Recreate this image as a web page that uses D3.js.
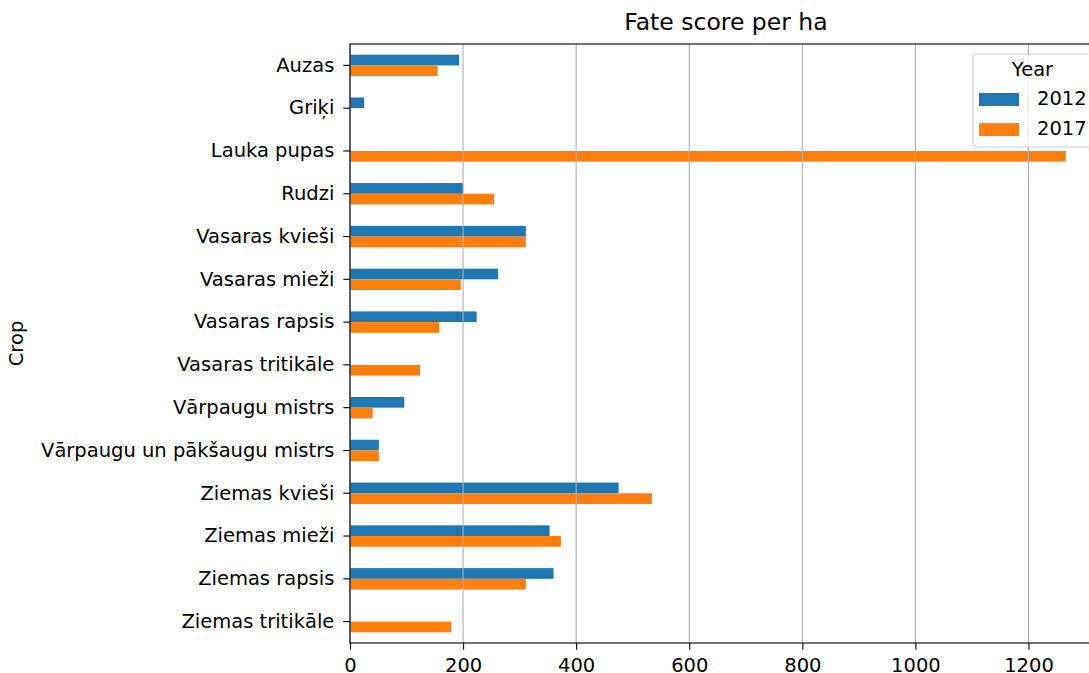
<!DOCTYPE html>
<meta charset="utf-8">
<html>
<head>
<title>Fate score per ha</title>
<style>
  body { margin: 0; background: #fff; }
  svg { font-family: "DejaVu Sans", sans-serif; }
  .tick text { font-size: 19.5px; fill: #000; font-family: "DejaVu Sans", sans-serif; }
  .grid line { stroke: #b0b0b0; stroke-width: 1.1px; }
</style>
<script src="https://d3js.org/d3.v7.min.js"></script>
</head>
<body>
<svg width="1089" height="673"></svg>
<script>
  // Data
  var crops = ["Auzas", "Griķi", "Lauka pupas", "Rudzi", "Vasaras kvieši", "Vasaras mieži",
               "Vasaras rapsis", "Vasaras tritikāle", "Vārpaugu mistrs",
               "Vārpaugu un pākšaugu mistrs", "Ziemas kvieši", "Ziemas mieži",
               "Ziemas rapsis", "Ziemas tritikāle"];
  var years = ["2012", "2017"];
  var score2012 = [193, 25, 0, 200, 311, 262, 224, 0, 96, 51, 475, 353, 360, 0];
  var score2017 = [155, 0, 1266, 255, 311, 196, 158, 124, 40, 51, 534, 373, 311, 179];
  var xTicks = [0, 200, 400, 600, 800, 1000, 1200];
  var colors = ["#1f77b4", "#ff7f0e"];

  var svg = d3.select("svg"),
      plotL = 350, plotR = 1102, plotT = 44, plotB = 643;

  var x = d3.scaleLinear().domain([0, 1330]).range([plotL, plotR]);
  var y = d3.scaleBand().domain(crops).range([plotT, plotB]);
  var bw = y.bandwidth();
  var ySub = d3.scaleBand().domain(years).range([0.25 * bw, 0.75 * bw]);

  var rows = [];
  crops.forEach(function (c, i) {
    rows.push({crop: c, year: "2012", value: score2012[i]});
    rows.push({crop: c, year: "2017", value: score2017[i]});
  });

  // Bars
  svg.append("g")
    .selectAll("rect")
    .data(rows.filter(function (d) { return d.value > 0; }))
    .enter().append("rect")
      .attr("x", x(0))
      .attr("y", function (d) { return y(d.crop) + ySub(d.year); })
      .attr("width", function (d) { return x(d.value) - x(0); })
      .attr("height", ySub.bandwidth())
      .attr("fill", function (d) { return colors[years.indexOf(d.year)]; });

  // Grid (drawn above bars, like matplotlib)
  svg.append("g")
    .attr("class", "grid")
    .selectAll("line")
    .data(xTicks)
    .enter().append("line")
      .attr("x1", function (d) { return x(d); })
      .attr("x2", function (d) { return x(d); })
      .attr("y1", plotT)
      .attr("y2", plotB);

  // Axes
  var xAxis = svg.append("g")
    .attr("transform", "translate(0," + plotB + ")")
    .call(d3.axisBottom(x).tickValues(xTicks).tickFormat(d3.format("d"))
      .tickSize(6.7).tickPadding(8.5));
  xAxis.select(".domain").remove();

  var yAxis = svg.append("g")
    .attr("transform", "translate(" + plotL + ",0)")
    .call(d3.axisLeft(y).tickSize(6.7).tickPadding(9));
  yAxis.select(".domain").remove();

  svg.selectAll(".tick line").attr("stroke", "#000").attr("stroke-width", 1.1);

  // Spines
  svg.append("rect")
    .attr("x", plotL).attr("y", plotT)
    .attr("width", plotR - plotL).attr("height", plotB - plotT)
    .attr("fill", "none").attr("stroke", "#000").attr("stroke-width", 1.1);

  // Title and axis label
  svg.append("text")
    .attr("x", (plotL + plotR) / 2).attr("y", 30)
    .attr("text-anchor", "middle")
    .style("font-size", "23.5px")
    .text("Fate score per ha");

  svg.append("text")
    .attr("transform", "translate(23," + (plotT + plotB) / 2 + ") rotate(-90)")
    .attr("text-anchor", "middle")
    .style("font-size", "19.5px")
    .text("Crop");

  // Legend
  var lg = svg.append("g");
  lg.append("rect")
    .attr("x", 973).attr("y", 54)
    .attr("width", 121).attr("height", 93)
    .attr("rx", 4)
    .attr("fill", "#fff").attr("fill-opacity", 0.8)
    .attr("stroke", "#cccccc").attr("stroke-width", 1.1);
  lg.append("text")
    .attr("x", 1032.5).attr("y", 76)
    .attr("text-anchor", "middle")
    .style("font-size", "19.5px")
    .text("Year");
  var item = lg.selectAll(".item")
    .data(years)
    .enter().append("g")
      .attr("class", "item")
      .attr("transform", function (d, i) { return "translate(0," + (i * 30) + ")"; });
  item.append("rect")
    .attr("x", 979).attr("y", 93)
    .attr("width", 40).attr("height", 13)
    .attr("fill", function (d, i) { return colors[i]; });
  item.append("text")
    .attr("x", 1037).attr("y", 105)
    .style("font-size", "19.5px")
    .text(function (d) { return d; });
</script>
</body>
</html>
